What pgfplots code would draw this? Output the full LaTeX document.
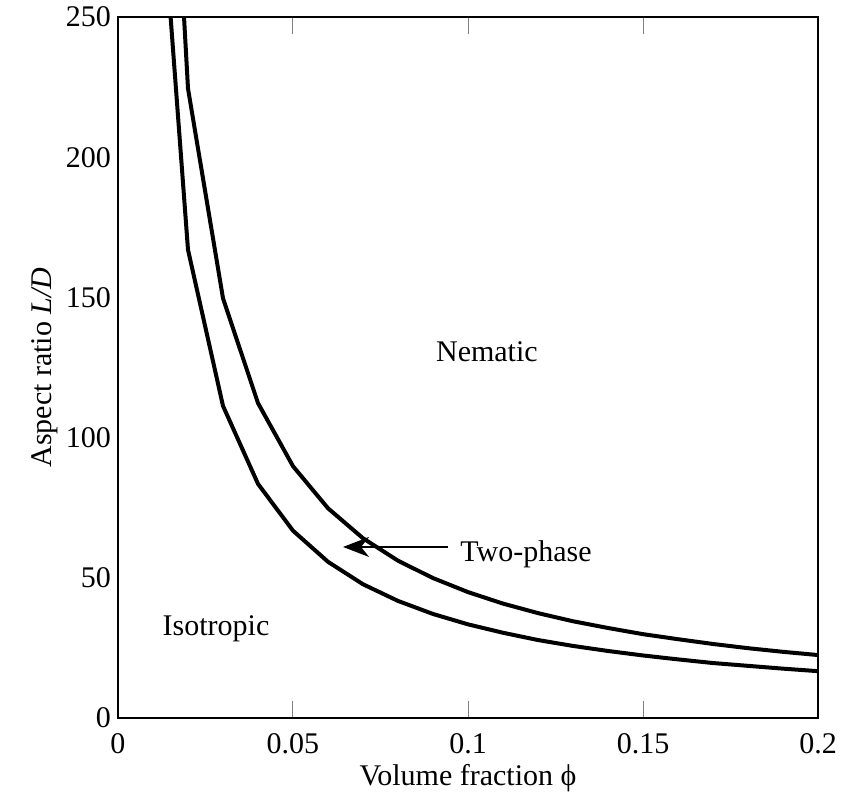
\documentclass[border=0pt]{standalone}
\usepackage{pgfplots}
\pgfplotsset{compat=1.18}
\usepackage{fontspec}
\setmainfont{Liberation Serif}
\usetikzlibrary{arrows.meta}
\begin{document}
\begin{tikzpicture}
\begin{axis}[
  name=ax,
  width=350pt, height=350.5pt, scale only axis,
  xmin=0, xmax=0.2, ymin=0, ymax=250,
  xtick={0,0.05,0.1,0.15,0.2},
  xticklabels={0,0.05,0.1,0.15,0.2},
  ytick={0,50,100,150,200,250},
  yticklabels={0,50,100,150,200,250},
  tick align=inside,
  major tick length=8.5pt,
  xtick style={line width=0.5pt},
  ytick style={draw=none},
  axis line style={line width=1.3pt},
  font=\fontsize{15}{18}\selectfont,
  ticklabel style={font=\fontsize{15}{18}\selectfont},
  xticklabel style={yshift=-4pt},
  yticklabel style={xshift=0pt},
  xlabel={Volume fraction ϕ},
  ylabel={Aspect ratio \textit{L/D}},
  xlabel style={at={(axis description cs:0.5,-0.0856)}, anchor=center},
  ylabel style={at={(axis description cs:-0.1043,0.5)}, anchor=center},
  clip=true,
]
% isotropic boundary
\addplot[black, line width=2pt] coordinates {
(0.01,334) (0.02,167) (0.03,111.3) (0.04,83.5) (0.05,66.8) (0.06,55.7)
(0.07,47.7) (0.08,41.75) (0.09,37.1) (0.10,33.4) (0.11,30.4) (0.12,27.8)
(0.13,25.7) (0.14,23.9) (0.15,22.3) (0.16,20.9) (0.17,19.6) (0.18,18.6)
(0.19,17.6) (0.20,16.7)
};
% nematic boundary
\addplot[black, line width=2pt] coordinates {
(0.01,449) (0.02,224.5) (0.03,149.7) (0.04,112.3) (0.05,89.8) (0.06,74.8)
(0.07,64.1) (0.08,56.1) (0.09,49.9) (0.10,44.9) (0.11,40.8) (0.12,37.4)
(0.13,34.5) (0.14,32.1) (0.15,29.9) (0.16,28.1) (0.17,26.4) (0.18,24.9)
(0.19,23.6) (0.20,22.45)
};
\node at (axis cs:0.1054,130.5) {Nematic};
\node at (axis cs:0.028,32) {Isotropic};
\node[anchor=west, inner sep=0pt] at (axis cs:0.0977,58.5) {Two-phase};
\draw[line width=1pt, -{Stealth[length=13pt, width=10pt, inset=4pt]}] (axis cs:0.0943,61) -- (axis cs:0.0643,61);
\end{axis}
\pgfresetboundingbox
\path ([shift={(-59pt,-40pt)}]ax.south west) rectangle ([shift={(14.5pt,8.5pt)}]ax.north east);
\end{tikzpicture}
\end{document}
